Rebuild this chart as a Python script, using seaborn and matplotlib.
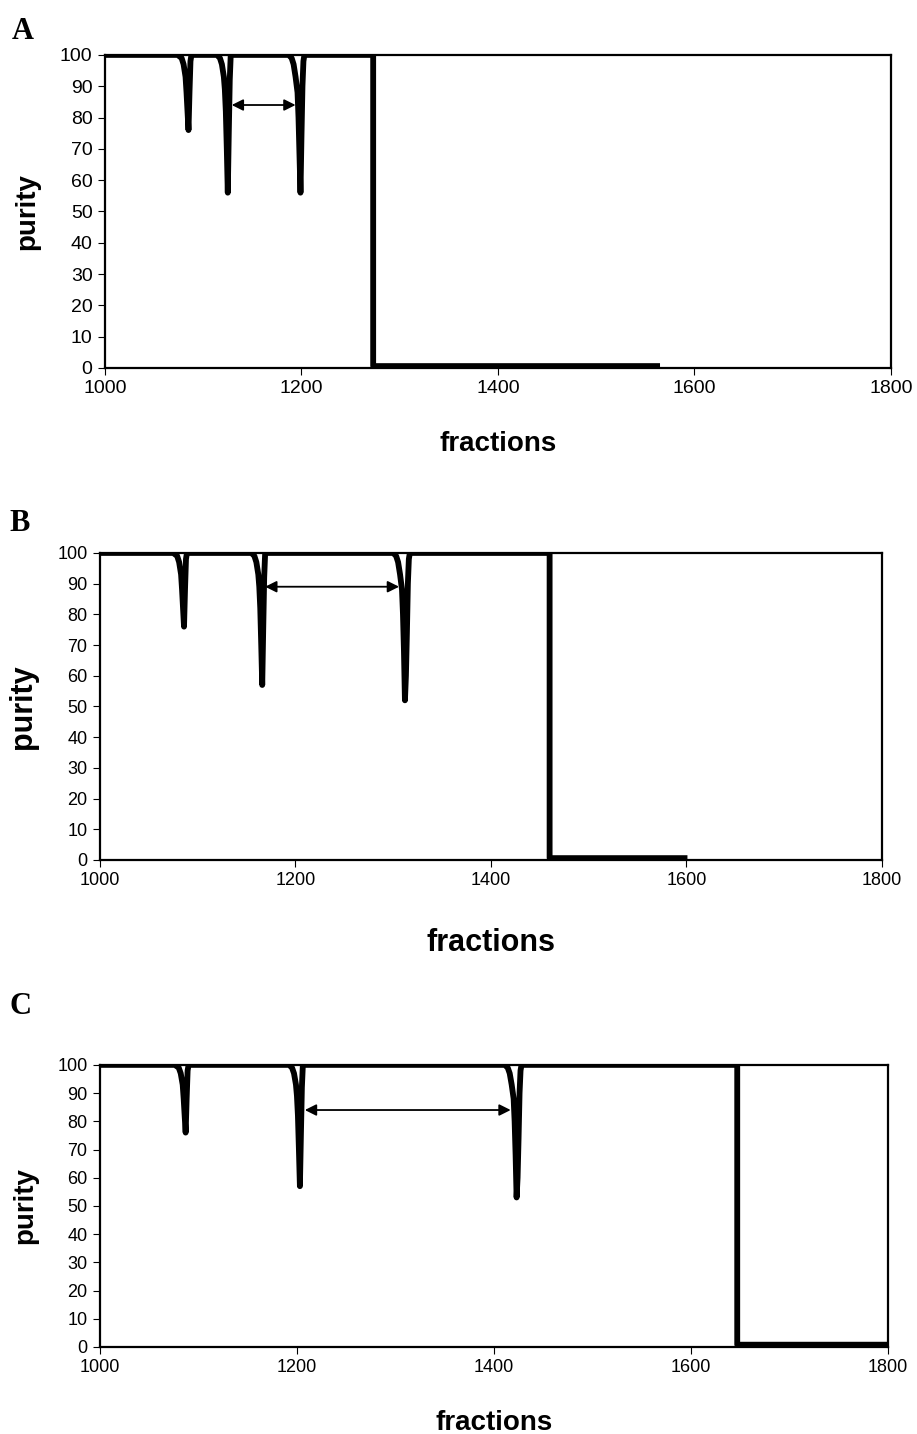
import matplotlib
matplotlib.use('Agg')
import matplotlib.pyplot as plt
import seaborn as sns
import pandas as pd

sns.set_style('ticks')
plt.rcParams['font.family'] = ['Liberation Sans', 'DejaVu Sans']
plt.rcParams['text.color'] = 'black'
plt.rcParams['axes.labelcolor'] = 'black'
plt.rcParams['xtick.color'] = 'black'
plt.rcParams['ytick.color'] = 'black'

# purity profiles (fraction, purity)
frac_a = [1000, 1074, 1078, 1080, 1082, 1083, 1084, 1085, 1086, 1087, 1088,
          1114, 1117, 1119, 1121, 1122, 1123, 1124, 1125, 1126, 1127, 1128,
          1187, 1190, 1192, 1194, 1196, 1197, 1198, 1199, 1200, 1201, 1202, 1203,
          1273, 1273, 1565]
pur_a = [100, 100, 99, 97, 93, 88, 82, 76, 88, 98, 100,
         100, 99, 97, 93, 89, 82, 70, 56, 75, 92, 100,
         100, 99, 97, 93, 88, 80, 68, 56, 74, 90, 98, 100,
         100, 0.6, 0.6]

frac_b = [1000, 1075, 1079, 1081, 1083, 1084, 1085, 1086, 1087, 1088, 1089,
          1155, 1158, 1160, 1162, 1163, 1164, 1165, 1166, 1167, 1168, 1169,
          1300, 1303, 1305, 1307, 1309, 1310, 1311, 1312, 1313, 1314, 1315, 1316, 1317,
          1460, 1460, 1601]
pur_b = [100, 100, 99, 97, 93, 88, 82, 76, 88, 98, 100,
         100, 99, 97, 93, 89, 82, 70, 57, 75, 92, 100,
         100, 99, 97, 93, 88, 80, 68, 52, 60, 74, 90, 98, 100,
         100, 0.6, 0.6]

frac_c = [1000, 1076, 1080, 1082, 1084, 1085, 1086, 1087, 1088, 1089, 1090,
          1192, 1195, 1197, 1199, 1200, 1201, 1202, 1203, 1204, 1205, 1206,
          1411, 1414, 1416, 1418, 1420, 1421, 1422, 1423, 1424, 1425, 1426, 1427, 1428,
          1647, 1647, 1800]
pur_c = [100, 100, 99, 97, 93, 88, 82, 76, 88, 98, 100,
         100, 99, 97, 93, 89, 82, 70, 57, 75, 92, 100,
         100, 99, 97, 93, 88, 80, 68, 53, 60, 74, 90, 98, 100,
         100, 0.8, 0.8]

# arrows between the two main dips: (start, end, level)
arrow_a = (1129, 1194, 84)
arrow_b = (1169, 1306, 89)
arrow_c = (1208, 1417, 84)

panels = [
    ('A', frac_a, pur_a, arrow_a, [0.1145, 0.7434, 0.857, 0.2183], 14, 20, 24, (0.013, 0.988)),
    ('B', frac_b, pur_b, arrow_b, [0.109, 0.4003, 0.8528, 0.2141], 13, 22, 28, (0.010, 0.645)),
    ('C', frac_c, pur_c, arrow_c, [0.109, 0.0607, 0.8593, 0.1967], 13, 20, 24, (0.010, 0.308)),
]

fig = plt.figure(figsize=(9.17, 14.34), dpi=100)

for letter, fr, pu, arr, pos, tsize, lsize, xpad, lpos in panels:
    ax = fig.add_axes(pos)
    df = pd.DataFrame({'fractions': fr, 'purity': pu})
    sns.lineplot(data=df, x='fractions', y='purity', ax=ax, color='black',
                 linewidth=4.2, sort=False, estimator=None,
                 solid_joinstyle='round', solid_capstyle='butt')
    ax.annotate('', xy=(arr[0], arr[2]), xytext=(arr[1], arr[2]),
                arrowprops=dict(arrowstyle='<|-|>', color='black', lw=1.3,
                                mutation_scale=17, shrinkA=0, shrinkB=0))
    ax.set_xlim(1000, 1800)
    ax.set_ylim(0, 100)
    ax.set_xticks([1000, 1200, 1400, 1600, 1800])
    ax.set_yticks(range(0, 101, 10))
    ax.tick_params(direction='out', length=5, width=0.8, labelsize=tsize, pad=4)
    for s in ax.spines.values():
        s.set_visible(True)
        s.set_linewidth(1.6)
        s.set_color('black')
    ax.set_xlabel('fractions', fontsize=lsize, fontweight='bold', labelpad=xpad)
    ax.set_ylabel('purity', fontsize=lsize, fontweight='bold', labelpad=14)
    fig.text(lpos[0], lpos[1], letter, fontsize=22, fontweight='bold',
             family=['Liberation Serif', 'DejaVu Serif'], va='top', ha='left')

fig.savefig('out.png', dpi=100)
